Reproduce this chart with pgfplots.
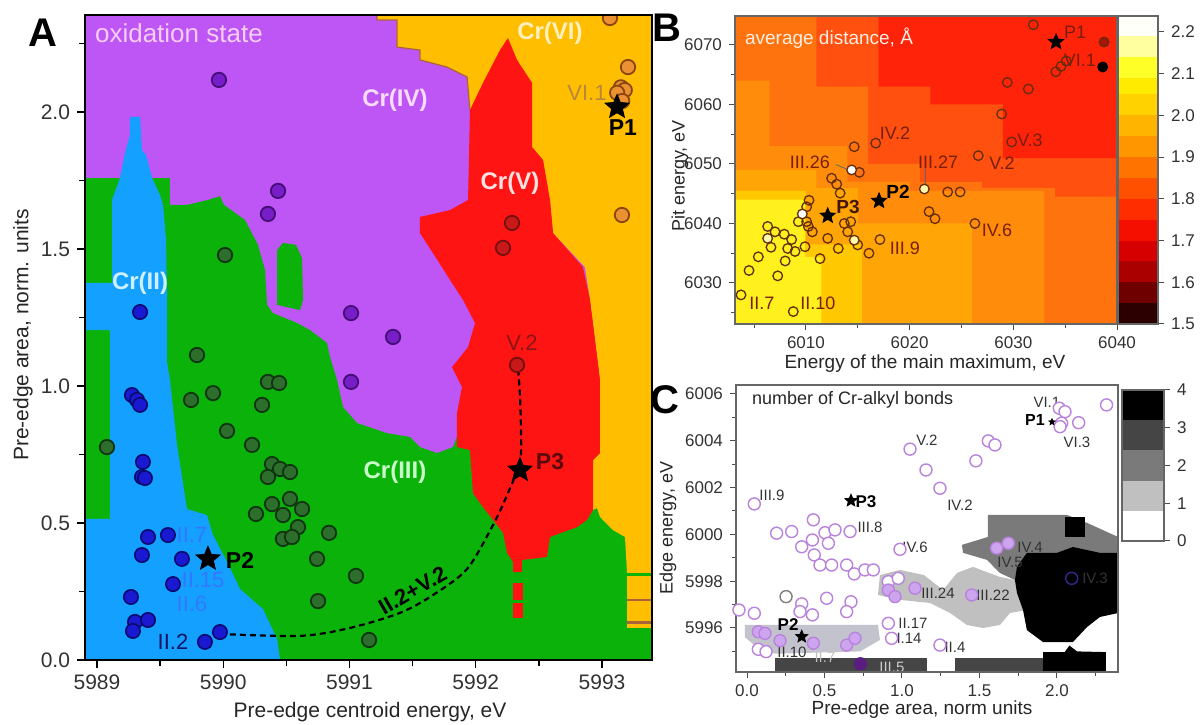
\documentclass[border=0pt]{standalone}
\usepackage{fontspec}
\setmainfont{Liberation Sans}
\usepackage{pgfplots}
\pgfplotsset{compat=1.18}
\pgfkeys{/pgf/number format/assume math mode=true}

\definecolor{cIV}{RGB}{190,85,245}
\definecolor{cIII}{RGB}{10,178,10}
\definecolor{cII}{RGB}{20,160,255}
\definecolor{cV}{RGB}{255,20,20}
\definecolor{cVI}{RGB}{255,190,0}
\definecolor{cVIline}{RGB}{170,100,60}
\definecolor{pII}{RGB}{25,25,210}
\definecolor{pIIe}{RGB}{10,10,110}
\definecolor{pIII}{RGB}{45,110,45}
\definecolor{pIIIe}{RGB}{15,55,15}
\definecolor{pIV}{RGB}{120,30,200}
\definecolor{pIVe}{RGB}{70,15,120}
\definecolor{pV}{RGB}{200,25,25}
\definecolor{pVe}{RGB}{120,15,15}
\definecolor{pVI}{RGB}{235,145,50}
\definecolor{pVIe}{RGB}{140,70,20}
\definecolor{tickc}{RGB}{50,50,50}
\definecolor{Lone}{RGB}{255,35,10}
\definecolor{Ltwo}{RGB}{255,80,15}
\definecolor{Lthree}{RGB}{255,115,15}
\definecolor{Lfour}{RGB}{255,140,10}
\definecolor{Lfive}{RGB}{255,165,5}
\definecolor{Lsix}{RGB}{255,200,0}
\definecolor{Lseven}{RGB}{255,240,30}
\definecolor{lblB}{RGB}{120,30,10}
\definecolor{ptB}{RGB}{100,45,10}
\definecolor{lav}{RGB}{185,130,220}
\definecolor{lavf}{RGB}{205,165,238}
\definecolor{gOne}{RGB}{192,192,192}
\definecolor{gTwo}{RGB}{122,122,122}
\definecolor{gThree}{RGB}{69,69,69}

\newcommand\fs[1]{\fontsize{#1}{#1}\selectfont}

\pgfdeclareplotmark{fstar}{%
\pgfpathmoveto{\pgfpointpolar{90}{\pgfplotmarksize}}%
\pgfpathlineto{\pgfpointpolar{126}{0.45\pgfplotmarksize}}%
\pgfpathlineto{\pgfpointpolar{162}{\pgfplotmarksize}}%
\pgfpathlineto{\pgfpointpolar{198}{0.45\pgfplotmarksize}}%
\pgfpathlineto{\pgfpointpolar{234}{\pgfplotmarksize}}%
\pgfpathlineto{\pgfpointpolar{270}{0.45\pgfplotmarksize}}%
\pgfpathlineto{\pgfpointpolar{306}{\pgfplotmarksize}}%
\pgfpathlineto{\pgfpointpolar{342}{0.45\pgfplotmarksize}}%
\pgfpathlineto{\pgfpointpolar{18}{\pgfplotmarksize}}%
\pgfpathlineto{\pgfpointpolar{54}{0.45\pgfplotmarksize}}%
\pgfpathclose\pgfusepathqfillstroke}

\begin{document}
\begin{tikzpicture}
\useasboundingbox (0,0) rectangle (600pt,362pt);

% ================= Panel A =================
\begin{axis}[at={(42.5pt,32pt)}, anchor=south west, scale only axis,
 width=283.5pt, height=322.5pt,
 xmin=5988.905, xmax=5993.396, ymin=0, ymax=2.354, axis on top,
 clip marker paths=true,
 tick align=outside, tick pos=left,
 xtick={5989,5990,5991,5992,5993}, xticklabels={5989,5990,5991,5992,5993},
 minor xtick={5989.5,5990.5,5991.5,5992.5},
 ytick={0,0.5,1,1.5,2}, yticklabels={0.0,0.5,1.0,1.5,2.0},
 minor ytick={0.25,0.75,1.25,1.75,2.25},
 ticklabel style={font=\fs{10.5}, text=tickc},
 major tick length=4pt, minor tick length=3pt,
 tick style={line width=0.7pt, black},
 axis line style={line width=0.9pt, black}]
\addplot[fill=cIV, draw=none] coordinates {(5988.905,0) (5993.396,0) (5993.396,2.354) (5988.905,2.354)};
\addplot[fill=cIII, draw=none] coordinates {(5988.905,0) (5988.905,1.759) (5989.578,1.759) (5989.578,1.661) (5989.713,1.661) (5989.879,1.679) (5989.974,1.693) (5990.006,1.661) (5990.172,1.606) (5990.275,1.515) (5990.331,1.423) (5990.347,1.296) (5990.394,1.266) (5990.584,1.230) (5990.687,1.204) (5990.822,1.157) (5990.846,1.106) (5990.901,1.022) (5990.949,0.923) (5991.059,0.865) (5991.297,0.828) (5991.479,0.814) (5991.558,0.777) (5991.693,0.755) (5991.820,0.777) (5991.851,0.814) (5993.396,0.814) (5993.396,0)};
\addplot[fill=cIII, draw=none] coordinates {(5990.426,1.296) (5990.426,1.496) (5990.473,1.522) (5990.576,1.515) (5990.624,1.467) (5990.632,1.314) (5990.608,1.277)};
\addplot[fill=cII, draw=none] coordinates {(5989.261,1.982) (5989.341,1.982) (5989.356,1.861) (5989.388,1.843) (5989.436,1.759) (5989.499,1.697) (5989.523,1.661) (5989.547,1.533) (5989.554,1.314) (5989.554,1.088) (5989.578,1.022) (5989.634,0.785) (5989.713,0.551) (5989.871,0.529) (5989.919,0.456) (5990.030,0.358) (5990.133,0.259) (5990.315,0.186) (5990.426,0.077) (5990.450,0) (5988.905,0) (5988.905,0.515) (5989.103,0.515) (5989.103,1.204) (5988.905,1.204) (5988.905,1.376) (5989.119,1.376) (5989.119,1.679) (5989.182,1.759) (5989.222,1.850) (5989.261,1.916)};
\addplot[fill=cVI, draw=none] coordinates {(5991.218,2.354) (5993.396,2.354) (5993.396,0.318) (5993.198,0.318) (5993.182,0.449) (5993.087,0.474) (5992.984,0.522) (5992.960,0.555) (5992.929,0.547) (5992.929,0.730) (5992.984,0.755) (5992.984,1.022) (5992.905,1.314) (5992.865,1.434) (5992.612,1.558) (5992.588,1.679) (5991.954,2.007) (5991.931,2.128) (5991.772,2.164) (5991.558,2.190) (5991.558,2.226) (5991.376,2.237) (5991.376,2.336) (5991.218,2.336)};
\addplot[fill=cVI, draw=none] coordinates {(5993.198,0.307) (5993.396,0.307) (5993.396,0.117) (5993.198,0.117)};
\addplot[draw=cVIline, line width=1pt] coordinates {(5993.198,0.219) (5993.396,0.219)};
\addplot[draw=cVIline, line width=1.5pt] coordinates {(5993.198,0.137) (5993.396,0.137)};
\addplot[draw=cVIline, line width=0.6pt] coordinates {(5991.218,2.354) (5991.218,2.336) (5991.376,2.336) (5991.376,2.237) (5991.558,2.226) (5991.558,2.190) (5991.772,2.164) (5991.931,2.128) (5991.954,2.007)};
\addplot[fill=cV, draw=none] coordinates {(5992.255,2.270) (5992.327,2.190) (5992.446,2.106) (5992.446,1.872) (5992.533,1.825) (5992.588,1.679) (5992.612,1.558) (5992.849,1.434) (5992.905,1.314) (5992.984,1.022) (5992.984,0.755) (5992.929,0.730) (5992.929,0.547) (5992.881,0.511) (5992.802,0.485) (5992.588,0.449) (5992.564,0.376) (5992.366,0.365) (5992.366,0.321) (5992.295,0.321) (5992.295,0.358) (5992.248,0.391) (5992.216,0.464) (5992.137,0.511) (5992.057,0.558) (5991.978,0.609) (5991.954,0.766) (5991.851,0.777) (5991.851,0.901) (5991.891,0.996) (5991.812,1.069) (5991.939,1.142) (5991.994,1.230) (5991.899,1.314) (5991.796,1.387) (5991.661,1.485) (5991.558,1.558) (5991.558,1.617) (5991.796,1.642) (5991.939,1.679) (5991.954,2.007) (5992.057,2.106) (5992.192,2.226)};
\addplot[fill=cV, draw=none] coordinates {(5992.295,0.281) (5992.374,0.281) (5992.374,0.219) (5992.295,0.219)};
\addplot[fill=cV, draw=none] coordinates {(5992.295,0.208) (5992.374,0.208) (5992.374,0.153) (5992.295,0.153)};
\addplot[black, line width=1.1pt, dash pattern=on 3pt off 2pt, smooth] coordinates {(5989.974,0.095) (5990.608,0.088) (5991.004,0.117) (5991.400,0.172) (5991.661,0.237) (5991.931,0.332) (5992.137,0.493) (5992.248,0.602) (5992.350,0.723) (5992.358,0.839) (5992.350,0.967) (5992.335,1.062)};
\addplot[only marks, mark=*, mark size=3.6pt, mark options={fill=pII, draw=pIIe, line width=0.8pt}] coordinates {(5989.277,0.967) (5989.317,0.949) (5989.341,0.931) (5989.364,0.723) (5989.356,0.668) (5989.380,0.664) (5989.404,0.449) (5989.562,0.456) (5989.356,0.383) (5989.673,0.369) (5989.602,0.277) (5989.269,0.230) (5989.301,0.139) (5989.404,0.146) (5989.285,0.106) (5989.855,0.066) (5989.974,0.102) (5989.341,1.270)};
\addplot[only marks, mark=*, mark size=3.6pt, mark options={fill=pIII, draw=pIIIe, line width=0.9pt}] coordinates {(5989.079,0.777) (5989.745,0.949) (5989.919,0.974) (5990.030,0.836) (5990.228,0.785) (5990.307,0.931) (5990.354,1.015) (5990.442,1.011) (5990.386,0.715) (5990.450,0.697) (5990.529,0.686) (5990.354,0.668) (5990.386,0.569) (5990.529,0.588) (5990.624,0.551) (5990.473,0.529) (5990.259,0.533) (5990.592,0.485) (5990.473,0.442) (5990.545,0.449) (5990.838,0.464) (5990.743,0.369) (5991.051,0.307) (5990.751,0.215) (5991.155,0.073) (5989.792,1.113) (5990.014,1.478)};
\addplot[only marks, mark=*, mark size=3.6pt, mark options={fill=pIV, draw=pIVe, line width=0.9pt}] coordinates {(5989.966,2.117) (5990.434,1.712) (5990.354,1.628) (5991.012,1.266) (5991.345,1.179) (5991.012,1.015)};
\addplot[only marks, mark=*, mark size=3.6pt, mark options={fill=pV, draw=pVe, line width=0.9pt}] coordinates {(5992.287,1.595) (5992.216,1.504) (5992.327,1.077)};
\addplot[only marks, mark=*, mark size=3.6pt, mark options={fill=pVI, draw=pVIe, line width=0.9pt}] coordinates {(5993.063,2.343) (5993.206,2.164) (5993.15,2.09) (5993.18,2.08) (5993.12,2.07) (5993.16,2.04) (5993.158,1.624)};
\addplot[only marks, mark=fstar, mark size=6.3pt, mark options={fill=black, draw=black}] coordinates {(5993.119,2.018) (5989.879,0.369) (5992.35,0.693)};
\node[anchor=west, font=\fs{13}, text={rgb,255:red,245;green,205;blue,245}] at (axis cs:5988.929,2.288) {oxidation state};
\node[font=\bfseries\fs{12}, text={rgb,255:red,248;green,220;blue,252}] at (axis cs:5991.36,2.044) {Cr(IV)};
\node[font=\bfseries\fs{12}, text={rgb,255:red,255;green,240;blue,190}] at (axis cs:5992.588,2.288) {Cr(VI)};
\node[font=\bfseries\fs{12}, text={rgb,255:red,255;green,225;blue,225}] at (axis cs:5992.271,1.741) {Cr(V)};
\node[font=\bfseries\fs{12}, text={rgb,255:red,205;green,240;blue,255}] at (axis cs:5989.341,1.376) {Cr(II)};
\node[font=\bfseries\fs{12}, text={rgb,255:red,200;green,255;blue,200}] at (axis cs:5991.36,0.686) {Cr(III)};
\node[font=\fs{11}, text={rgb,255:red,185;green,135;blue,60}] at (axis cs:5992.881,2.069) {VI.1};
\node[font=\bfseries\fs{11.5}] at (axis cs:5993.166,1.942) {P1};
\node[font=\fs{11}, text={rgb,255:red,140;green,20;blue,20}] at (axis cs:5992.366,1.157) {V.2};
\node[font=\bfseries\fs{11.5}, text={rgb,255:red,90;green,10;blue,10}] at (axis cs:5992.588,0.723) {P3};
\node[font=\bfseries\fs{11.5}] at (axis cs:5990.133,0.365) {P2};
\node[font=\fs{11}, text={rgb,255:red,50;green,120;blue,255}] at (axis cs:5989.752,0.456) {II.7};
\node[font=\fs{11}, text={rgb,255:red,50;green,120;blue,255}] at (axis cs:5989.840,0.292) {II.15};
\node[font=\fs{11}, text={rgb,255:red,50;green,120;blue,255}] at (axis cs:5989.752,0.204) {II.6};
\node[font=\fs{11}, text={rgb,255:red,20;green,20;blue,100}] at (axis cs:5989.602,0.066) {II.2};
\node[font=\bfseries\fs{11}, rotate=30, inner sep=0pt] at (axis cs:5991.50,0.255) {II.2+V.2};
\end{axis}

% ================= Panel B =================
\begin{axis}[at={(367.5pt,200pt)}, anchor=south west, scale only axis,
 width=191pt, height=154pt,
 xmin=6003.16, xmax=6040, ymin=6023.11, ymax=6074.87, axis on top,
 tick align=outside, tick pos=left,
 xtick={6010,6020,6030,6040}, xticklabels={6010,6020,6030,6040},
 minor xtick={6005,6015,6025,6035},
 ytick={6030,6040,6050,6060,6070}, yticklabels={6030,6040,6050,6060,6070},
 minor ytick={6025,6035,6045,6055,6065},
 ticklabel style={font=\fs{8.5}, text=tickc},
 major tick length=3pt, minor tick length=2pt,
 tick style={line width=0.5pt, black!70},
 axis line style={line width=0.6pt, black!60}]
\addplot[fill=Ltwo, draw=none] coordinates {(6003.16,6023.11) (6040,6023.11) (6040,6074.87) (6003.16,6074.87)};
\addplot[fill=Lone, draw=none] coordinates {(6017,6074.87) (6017,6063) (6022,6063) (6022,6060) (6029,6060) (6029,6051) (6040,6051) (6040,6074.87)};
\addplot[fill=Lthree, draw=none] coordinates {(6003.16,6074.87) (6011,6074.87) (6011,6063) (6016,6063) (6016,6050) (6021,6050) (6021,6047) (6027,6047) (6027,6046) (6034,6046) (6034,6044.5) (6040,6044.5) (6040,6023.11) (6003.16,6023.11)};
\addplot[fill=Lfour, draw=none] coordinates {(6003.16,6064) (6006.5,6064) (6006.5,6053) (6014,6053) (6014,6047) (6020,6047) (6020,6045.5) (6033,6045.5) (6033,6023.11) (6003.16,6023.11)};
\addplot[fill=Lfive, draw=none] coordinates {(6003.16,6049) (6011,6049) (6011,6046) (6015,6046) (6015,6040) (6026,6040) (6026,6023.11) (6003.16,6023.11)};
\addplot[fill=Lsix, draw=none] coordinates {(6003.16,6045.5) (6010,6045.5) (6010,6036.5) (6015.4,6036.5) (6015.4,6023.11) (6003.16,6023.11)};
\addplot[fill=Lseven, draw=none] coordinates {(6003.16,6044) (6009.9,6044) (6009.9,6034.4) (6011.5,6034.4) (6011.5,6023.11) (6003.16,6023.11)};
\draw[black!60, line width=0.4pt] (axis cs:6021.5,6049.3) -- (axis cs:6021.5,6046.6);
\draw[black!60, line width=0.4pt] (axis cs:6012.9,6049.9) -- (axis cs:6014.0,6049.1);
\addplot[only marks, mark=o, mark size=2.4pt, mark options={draw=ptB, line width=0.65pt}] coordinates {(6014.66,6052.9) (6016.73,6053.5) (6015.15,6048.6) (6012.48,6047.6) (6012.97,6046.6) (6013.30,6045.1) (6023.67,6045.3) (6024.87,6045.3) (6021.87,6042.0) (6022.45,6040.8) (6010.30,6043.9) (6010.07,6042.8) (6009.27,6040.3) (6010.07,6040.3) (6010.23,6039.5) (6010.62,6038.6) (6013.70,6040.0) (6014.32,6040.3) (6014.03,6038.6) (6006.31,6039.5) (6007.02,6038.6) (6007.91,6038.2) (6008.62,6037.3) (6006.63,6036.0) (6008.24,6035.8) (6008.95,6035.3) (6009.91,6036.1) (6008.0,6033.7) (6005.41,6034.4) (6004.51,6032.1) (6007.28,6031.2) (6011.36,6034.1) (6012.10,6037.5) (6013.12,6035.8) (6014.99,6036.4) (6016.08,6035.0) (6017.14,6037.3) (6003.74,6028.0) (6008.78,6025.2) (6031.93,6073.4) (6034.1,6065.5) (6034.6,6066.4) (6035.1,6067.3) (6029.42,6063.7) (6031.45,6062.6) (6028.88,6058.4) (6029.84,6053.7) (6026.62,6051.4) (6026.3,6040.0)};
\addplot[only marks, mark=*, mark size=2.4pt, mark options={fill=white, draw=ptB, line width=0.65pt}] coordinates {(6014.41,6049.0) (6009.65,6041.6)};
\addplot[only marks, mark=*, mark size=2.4pt, mark options={fill={rgb,255:red,255;green,250;blue,170}, draw=ptB, line width=0.65pt}] coordinates {(6021.42,6045.8) (6006.31,6037.5) (6014.66,6037.2)};
\addplot[only marks, mark=*, mark size=2.4pt, mark options={fill={rgb,255:red,170;green,20;blue,10}, draw=ptB, line width=0.65pt}] coordinates {(6038.75,6070.5)};
\addplot[only marks, mark=*, mark size=2.4pt, mark options={fill=black, draw=black, line width=0.65pt}] coordinates {(6038.62,6066.3)};
\addplot[only marks, mark=fstar, mark size=4pt, mark options={fill=black, draw=black}] coordinates {(6034.12,6070.5) (6017.05,6043.8) (6012.1,6041.3)};
\node[anchor=west, font=\fs{9.5}, text={rgb,255:red,255;green,238;blue,225}] at (axis cs:6003.45,6071.2) {average distance, Å};
\node[font=\fs{9}, text=lblB] at (axis cs:6018.59,6055.2) {IV.2};
\node[font=\fs{9}, text=lblB] at (axis cs:6010.39,6050.3) {III.26};
\node[font=\fs{9}, text=lblB] at (axis cs:6022.74,6050.3) {III.27};
\node[font=\bfseries\fs{9.5}] at (axis cs:6018.88,6045.3) {P2};
\node[font=\bfseries\fs{9.5}, text={rgb,255:red,70;green,20;blue,10}] at (axis cs:6014.06,6042.8) {P3};
\node[font=\fs{9}, text=lblB] at (axis cs:6019.55,6035.9) {III.9};
\node[font=\fs{9}, text=lblB] at (axis cs:6005.76,6026.6) {II.7};
\node[font=\fs{9}, text=lblB] at (axis cs:6011.16,6026.6) {II.10};
\node[font=\fs{9}, text=lblB] at (axis cs:6035.95,6072.2) {P1};
\node[font=\fs{9}, text=lblB] at (axis cs:6036.43,6067.5) {VI.1};
\node[font=\fs{9}, text=lblB] at (axis cs:6031.61,6054.0) {V.3};
\node[font=\fs{9}, text=lblB] at (axis cs:6028.91,6050.2) {V.2};
\node[font=\fs{9}, text=lblB] at (axis cs:6028.43,6038.9) {IV.6};
\end{axis}

% colorbar B
\begin{axis}[at={(559pt,200pt)}, anchor=south west, scale only axis,
 width=20pt, height=154pt, xmin=0, xmax=1, ymin=1.5, ymax=2.238, axis on top,
 xtick=\empty, ytick={1.5,1.6,1.7,1.8,1.9,2.0,2.1,2.2},
 yticklabels={1.5,1.6,1.7,1.8,1.9,2.0,2.1,2.2},
 ytick pos=right, yticklabel pos=right, tick align=outside,
 yticklabel style={font=\fs{8.5}, text=tickc}, major tick length=3pt,
 tick style={line width=0.5pt, black!70}, axis line style={line width=0.6pt, black!60}]
\addplot[fill={rgb,255:red,45;green,0;blue,0}, draw=none] coordinates {(0,1.5) (1,1.5) (1,1.55) (0,1.55)};
\addplot[fill={rgb,255:red,110;green,0;blue,0}, draw=none] coordinates {(0,1.55) (1,1.55) (1,1.6) (0,1.6)};
\addplot[fill={rgb,255:red,170;green,0;blue,0}, draw=none] coordinates {(0,1.6) (1,1.6) (1,1.65) (0,1.65)};
\addplot[fill={rgb,255:red,215;green,0;blue,0}, draw=none] coordinates {(0,1.65) (1,1.65) (1,1.7) (0,1.7)};
\addplot[fill={rgb,255:red,245;green,15;blue,0}, draw=none] coordinates {(0,1.7) (1,1.7) (1,1.75) (0,1.75)};
\addplot[fill={rgb,255:red,255;green,45;blue,0}, draw=none] coordinates {(0,1.75) (1,1.75) (1,1.8) (0,1.8)};
\addplot[fill={rgb,255:red,255;green,80;blue,0}, draw=none] coordinates {(0,1.8) (1,1.8) (1,1.85) (0,1.85)};
\addplot[fill={rgb,255:red,255;green,115;blue,0}, draw=none] coordinates {(0,1.85) (1,1.85) (1,1.9) (0,1.9)};
\addplot[fill={rgb,255:red,255;green,150;blue,0}, draw=none] coordinates {(0,1.9) (1,1.9) (1,1.95) (0,1.95)};
\addplot[fill={rgb,255:red,255;green,180;blue,0}, draw=none] coordinates {(0,1.95) (1,1.95) (1,2.0) (0,2.0)};
\addplot[fill={rgb,255:red,255;green,210;blue,0}, draw=none] coordinates {(0,2.0) (1,2.0) (1,2.05) (0,2.05)};
\addplot[fill={rgb,255:red,255;green,235;blue,0}, draw=none] coordinates {(0,2.05) (1,2.05) (1,2.09) (0,2.09)};
\addplot[fill={rgb,255:red,255;green,255;blue,40}, draw=none] coordinates {(0,2.09) (1,2.09) (1,2.14) (0,2.14)};
\addplot[fill={rgb,255:red,255;green,255;blue,160}, draw=none] coordinates {(0,2.14) (1,2.14) (1,2.19) (0,2.19)};
\addplot[fill={rgb,255:red,255;green,255;blue,250}, draw=none] coordinates {(0,2.19) (1,2.19) (1,2.238) (0,2.238)};
\end{axis}

% ================= Panel C =================
\begin{axis}[at={(368pt,26pt)}, anchor=south west, scale only axis,
 width=191pt, height=143.5pt,
 xmin=-0.071, xmax=2.394, ymin=5994.12, ymax=6006.38, axis on top,
 tick align=outside, tick pos=left,
 xtick={0,0.5,1,1.5,2}, xticklabels={0.0,0.5,1.0,1.5,2.0},
 minor xtick={0.25,0.75,1.25,1.75,2.25},
 ytick={5996,5998,6000,6002,6004,6006}, yticklabels={5996,5998,6000,6002,6004,6006},
 minor ytick={5995,5997,5999,6001,6003,6005},
 ticklabel style={font=\fs{8.5}, text=tickc},
 major tick length=3pt, minor tick length=2pt,
 tick style={line width=0.5pt, black!70},
 axis line style={line width=0.6pt, black!60}]
\addplot[fill=gOne, draw=none] coordinates {(1.265,5997.62) (1.355,5998.35) (1.458,5998.61) (1.632,5998.18) (1.729,5998.05) (1.781,5997.50) (1.806,5996.77) (1.697,5996.64) (1.632,5996.13) (1.523,5996.00) (1.419,5996.13) (1.310,5996.64) (1.181,5997.07) (0.987,5997.20) (0.845,5997.41) (0.858,5998.26) (0.987,5998.48) (1.142,5998.26)};
\addplot[fill={rgb,255:red,195;green,195;blue,205}, draw=none] coordinates {(-0.013,5996.13) (0.845,5996.13) (0.858,5995.49) (0.73,5995.0) (0.18,5994.9) (0.06,5995.2) (-0.013,5995.6)};
\addplot[fill=gTwo, draw=none] coordinates {(1.555,6000.83) (2.065,6000.83) (2.194,6000.49) (2.394,5999.89) (2.394,5999.12) (1.729,5998.05) (1.632,5998.35) (1.548,5998.91) (1.394,5999.21) (1.387,5999.55) (1.555,5999.89)};
\addplot[fill=black, draw=none] coordinates {(2.052,6000.74) (2.181,6000.74) (2.181,5999.89) (2.052,5999.89)};
\addplot[fill=black, draw=none] coordinates {(1.806,5999.21) (2.0,5999.21) (2.103,5999.46) (2.277,5999.21) (2.394,5999.21) (2.394,5996.64) (2.277,5996.47) (2.194,5996.04) (2.103,5995.40) (1.910,5995.40) (1.806,5995.91) (1.781,5996.77) (1.742,5997.50) (1.729,5998.05) (1.742,5998.61)};
\addplot[fill=gThree, draw=none] coordinates {(0.181,5994.12) (0.181,5994.72) (1.161,5994.72) (1.161,5994.12)};
\addplot[fill=gThree, draw=none] coordinates {(1.342,5994.12) (1.342,5994.72) (1.910,5994.72) (1.910,5994.12)};
\addplot[fill=black, draw=none] coordinates {(1.910,5994.12) (1.910,5994.97) (2.05,5994.97) (2.08,5995.25) (2.13,5995.0) (2.316,5994.97) (2.316,5994.12)};
\addplot[only marks, mark=*, mark size=3pt, mark options={fill=white, draw=lav, line width=0.7pt}] coordinates {(0.047,6001.30) (0.428,6000.62) (0.191,6000.05) (0.288,6000.12) (0.422,5999.76) (0.353,5999.47) (0.503,6000.07) (0.568,6000.19) (0.665,6000.12) (0.525,5999.62) (0.434,5999.12) (0.471,5998.69) (0.546,5998.69) (0.643,5998.69) (0.692,5998.31) (0.761,5998.48) (0.815,5998.48) (0.987,5999.36) (0.353,5997.03) (0.422,5996.56) (0.342,5996.70) (0.514,5997.27) (0.671,5997.12) (0.643,5996.70) (-0.052,5996.77) (0.047,5996.63) (0.073,5995.09) (0.123,5994.99) (0.912,5997.98) (0.976,5998.12) (0.912,5996.20) (0.933,5995.56) (1.052,6003.64) (1.155,6002.75) (1.245,6001.97) (1.477,6003.14) (1.557,6003.99) (1.600,6003.82) (2.015,6005.39) (2.052,6005.24) (2.03,6004.75) (2.14,6004.77) (2.02,6004.60) (2.32,6005.53) (1.245,5995.27)};
\addplot[only marks, mark=*, mark size=3pt, mark options={fill=white, draw=black!50, line width=0.7pt}] coordinates {(0.252,5997.34)};
\addplot[only marks, mark=*, mark size=3pt, mark options={fill=lavf, draw=lav, line width=0.7pt}] coordinates {(0.073,5995.84) (0.116,5995.77) (0.213,5995.46) (0.428,5995.35) (0.643,5995.27) (0.697,5995.56) (0.912,5997.62) (0.955,5997.34) (1.084,5997.70) (1.611,5999.41) (1.686,5999.62) (1.45,5997.41)};
\addplot[only marks, mark=*, mark size=3pt, mark options={fill=black, draw={rgb,255:red,50;green,40;blue,140}, line width=0.7pt}] coordinates {(2.095,5998.12)};
\addplot[only marks, mark=*, mark size=3pt, mark options={fill={rgb,255:red,90;green,30;blue,130}, draw={rgb,255:red,90;green,30;blue,130}, line width=0.7pt}] coordinates {(0.732,5994.47)};
\addplot[only marks, mark=fstar, mark size=3.2pt, mark options={fill=black, draw=black}] coordinates {(0.671,6001.44) (0.353,5995.63)};
\addplot[only marks, mark=fstar, mark size=1.6pt, mark options={fill=black, draw=black}] coordinates {(1.968,6004.80)};
\node[anchor=west, font=\fs{9}, text=black!85] at (axis cs:-0.013,6005.74) {number of Cr-alkyl bonds};
\node[font=\fs{7.5}, text=black!80] at (axis cs:1.935,6005.62) {VI.1};
\node[font=\bfseries\fs{8}] at (axis cs:1.858,6004.89) {P1};
\node[font=\fs{7.5}, text=black!80] at (axis cs:2.129,6003.95) {VI.3};
\node[font=\fs{7.5}, text=black!80] at (axis cs:1.161,6004.03) {V.2};
\node[font=\fs{7.5}, text=black!80] at (axis cs:1.374,6001.26) {IV.2};
\node[font=\fs{7.5}, text=black!80] at (axis cs:0.161,6001.68) {III.9};
\node[font=\bfseries\fs{8.5}] at (axis cs:0.768,6001.38) {P3};
\node[font=\fs{7.5}, text=black!80] at (axis cs:0.794,6000.32) {III.8};
\node[font=\fs{7.5}, text=black!80] at (axis cs:1.084,5999.46) {IV.6};
\node[font=\fs{7.5}, text=black!80] at (axis cs:1.826,5999.46) {IV.4};
\node[font=\fs{7.5}, text=black!80] at (axis cs:1.697,5998.82) {IV.5};
\node[font=\fs{7.5}, text=black!80] at (axis cs:2.245,5998.14) {IV.3};
\node[font=\fs{7.5}, text=black!80] at (axis cs:1.232,5997.50) {III.24};
\node[font=\fs{7.5}, text=black!80] at (axis cs:1.587,5997.41) {III.22};
\node[font=\fs{7.5}, text=black!80] at (axis cs:1.071,5996.21) {II.17};
\node[font=\fs{7.5}, text=black!80] at (axis cs:1.032,5995.57) {II.14};
\node[font=\fs{7.5}, text=black!80] at (axis cs:1.342,5995.19) {II.4};
\node[font=\bfseries\fs{8.5}] at (axis cs:0.265,5996.13) {P2};
\node[font=\fs{7.5}, text=black!80] at (axis cs:0.290,5994.97) {II.10};
\node[font=\fs{7.5}, text=black!25] at (axis cs:0.503,5994.76) {II.7};
\node[font=\fs{7.5}, text=black!20] at (axis cs:0.935,5994.33) {III.5};
\end{axis}

% colorbar C
\begin{axis}[at={(561pt,91.5pt)}, anchor=south west, scale only axis,
 width=21pt, height=75.5pt, xmin=0, xmax=1, ymin=0, ymax=4, axis on top,
 xtick=\empty, ytick={0,1,2,3,4}, yticklabels={0,1,2,3,4},
 ytick pos=right, yticklabel pos=right, tick align=outside,
 yticklabel style={font=\fs{8.5}, text=tickc}, major tick length=3pt,
 tick style={line width=0.5pt, black!70}, axis line style={line width=0.6pt, black!60}]
\addplot[fill=white, draw=none] coordinates {(0,0) (1,0) (1,0.8) (0,0.8)};
\addplot[fill=gOne, draw=none] coordinates {(0,0.8) (1,0.8) (1,1.6) (0,1.6)};
\addplot[fill=gTwo, draw=none] coordinates {(0,1.6) (1,1.6) (1,2.4) (0,2.4)};
\addplot[fill=gThree, draw=none] coordinates {(0,2.4) (1,2.4) (1,3.2) (0,3.2)};
\addplot[fill=black, draw=none] coordinates {(0,3.2) (1,3.2) (1,4) (0,4)};
\end{axis}

% axis labels and panel letters
\node[font=\fs{10.5}, text=black!85] at (185pt,6pt) {Pre-edge centroid energy, eV};
\node[font=\fs{10.5}, text=black!85, rotate=90] at (11.5pt,194.5pt) {Pre-edge area, norm. units};
\node[font=\fs{9.5}, text=black!85] at (462.5pt,180pt) {Energy of the main maximum, eV};
\node[font=\fs{9}, text=black!85, rotate=90] at (340pt,274pt) {Pit energy, eV};
\node[font=\fs{9.5}, text=black!85] at (461pt,7pt) {Pre-edge area, norm units};
\node[font=\fs{9}, text=black!85, rotate=90] at (334pt,98pt) {Edge energy, eV};
\node[font=\bfseries\fs{20}] at (21.5pt,345.5pt) {A};
\node[font=\bfseries\fs{20}] at (333.5pt,348pt) {B};
\node[font=\bfseries\fs{20}] at (332.5pt,162pt) {C};
\end{tikzpicture}
\end{document}
